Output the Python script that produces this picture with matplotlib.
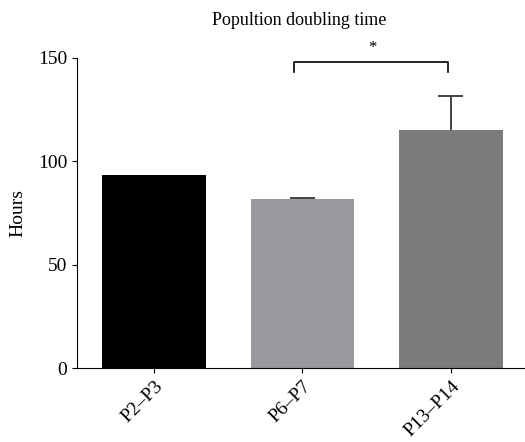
import numpy as np
import matplotlib.pyplot as plt

plt.rcParams['font.family'] = ['Liberation Serif', 'DejaVu Serif']

# Data
groups = ["P2\u2013P3", "P6\u2013P7", "P13\u2013P14"]
hours = [93.4, 81.8, 115.2]
sem = [0.0, 0.4, 16.4]
colors = ["#000000", "#9a9a9e", "#7b7b7d"]

fig = plt.figure(figsize=(5.25, 4.42), dpi=100)
ax = fig.add_axes([0.1467, 0.1674, 0.8533, 0.7014])

x = np.arange(len(groups))
ax.bar(x, hours, width=0.70, color=colors)

# one-sided (upper) error bars
for xi, h, e in zip(x[1:], hours[1:], sem[1:]):
    ax.vlines(xi, h, h + e, color='#333333', lw=1.3)
    ax.hlines(h + e, xi - 0.085, xi + 0.085, color='#333333', lw=1.3)

# significance bracket
ax.plot([0.946, 0.946, 1.98, 1.98], [143, 148, 148, 143], color='black', lw=1.2,
        clip_on=False)
ax.text(1.47, 151, "*", ha='center', va='bottom', fontsize=12)

ax.set_xlim(-0.52, 2.5)
ax.set_ylim(0, 150)
ax.set_yticks([0, 50, 100, 150])
ax.set_xticks(x)
ax.set_xticklabels(groups, rotation=45, ha='right', rotation_mode='anchor')
ax.tick_params(labelsize=14)
ax.set_ylabel("Hours", fontsize=14, labelpad=8)
ax.spines['top'].set_visible(False)
ax.spines['right'].set_visible(False)

fig.text(0.57, 0.953, "Popultion doubling time", ha='center', va='center', fontsize=13)

fig.savefig("out.png", dpi=100)
